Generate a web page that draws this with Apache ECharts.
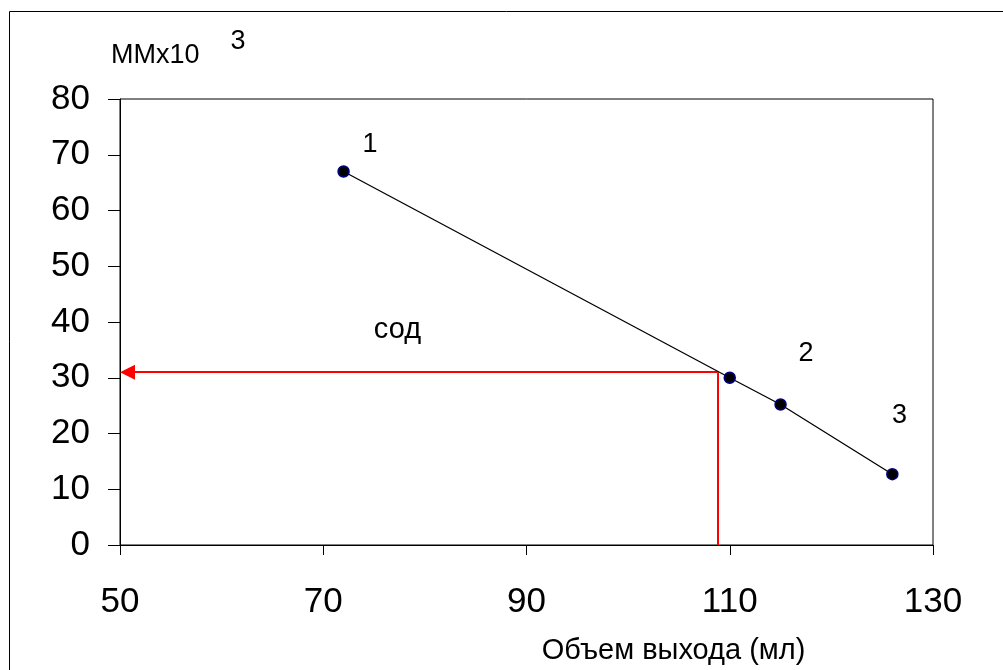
<!DOCTYPE html>
<html><head><meta charset="utf-8">
<script src="https://cdn.jsdelivr.net/npm/echarts@6/dist/echarts.min.js"></script>
<style>html,body{margin:0;padding:0;background:#fff}#c{width:1003px;height:670px}</style>
</head><body><div id="c"></div>
<script>
// Data
const xValues = [72, 110, 115, 126];
const yValues = [67, 30, 25.2, 12.7];
const labelX = [74.6, 117.5, 126.7];
const labelY = [71.8, 34.4, 23.2];
const labelTexts = ['1', '2', '3'];
const noteText = 'сод';
const noteX = [77.3];
const noteY = [38.6];
const readX = 108.8;   // red reading line
const readY = 31;
const arrowTipGap = 0.74; // half arrow-head length in x units
const xTicks = [50, 70, 90, 110, 130];
const yTicks = [0, 10, 20, 30, 40, 50, 60, 70, 80];
const yTitle = 'ММх10';
const yTitleSup = '3';
const xTitle = 'Объем выхода (мл)';

const FONT = '"Liberation Sans", Arial, sans-serif';
const chart = echarts.init(document.getElementById('c'), null, {renderer: 'canvas'});

const annData = labelTexts.map((t, i) => ({value: [labelX[i], labelY[i]], name: t, label: {fontSize: 27}}));
annData.push({value: [noteX[0], noteY[0]], name: noteText, label: {fontSize: 29}});

chart.setOption({
  animation: false,
  backgroundColor: '#fff',
  grid: {left: 120, top: 99, right: 70, bottom: 123, show: true, borderColor: '#000', borderWidth: 1, backgroundColor: 'transparent'},
  xAxis: {
    type: 'value', min: xTicks[0], max: xTicks[xTicks.length - 1], interval: 20,
    splitLine: {show: false},
    axisLine: {show: true, lineStyle: {color: '#000', width: 1}},
    axisTick: {show: true, inside: false, length: 10, lineStyle: {color: '#000'}},
    axisLabel: {color: '#000', fontSize: 35, fontFamily: FONT, margin: 40},
    name: xTitle, nameLocation: 'middle', nameGap: 91,
    nameTextStyle: {color: '#000', fontSize: 29, fontFamily: FONT, padding: [0, 0, 0, 294]}
  },
  yAxis: {
    type: 'value', min: yTicks[0], max: yTicks[yTicks.length - 1], interval: 10,
    splitLine: {show: false},
    axisLine: {show: true, lineStyle: {color: '#000', width: 1}},
    axisTick: {show: true, inside: false, length: 12, lineStyle: {color: '#000'}},
    axisLabel: {color: '#000', fontSize: 35, fontFamily: FONT, margin: 30}
  },
  graphic: [
    {type: 'rect', shape: {x: 9.5, y: 11.5, width: 1010, height: 680}, style: {fill: 'none', stroke: '#000', lineWidth: 1}, silent: true, z: 0},
    {type: 'text', x: 111, y: 56, style: {text: yTitle, fontSize: 27, fontFamily: FONT, fill: '#000', verticalAlign: 'middle'}},
    {type: 'text', x: 238, y: 42, style: {text: yTitleSup, fontSize: 27, fontFamily: FONT, fill: '#000', align: 'center', verticalAlign: 'middle'}}
  ],
  series: [
    {
      type: 'line',
      data: xValues.map((x, i) => [x, yValues[i]]),
      symbol: 'circle', symbolSize: 11,
      lineStyle: {color: '#000', width: 1.3},
      itemStyle: {color: '#000', borderColor: '#000080', borderWidth: 1.5},
      z: 5,
      markLine: {
        silent: true,
        lineStyle: {color: '#ff0000', width: 2, type: 'solid'},
        label: {show: false},
        data: [
          [{coord: [readX, readY], symbol: 'none'}, {coord: [xTicks[0] + arrowTipGap, readY], symbol: 'triangle', symbolRotate: 90, symbolSize: [15, 15]}],
          [{coord: [readX, readY], symbol: 'none'}, {coord: [readX, yTicks[0]], symbol: 'none'}]
        ]
      }
    },
    {
      type: 'scatter',
      data: annData,
      symbol: 'circle', symbolSize: 1,
      itemStyle: {color: 'rgba(0,0,0,0)'},
      z: 6,
      label: {show: true, position: 'inside', formatter: p => p.name, color: '#000', opacity: 1, textBorderWidth: 0, textBorderColor: 'transparent', fontFamily: FONT}
    }
  ]
});
</script></body></html>
